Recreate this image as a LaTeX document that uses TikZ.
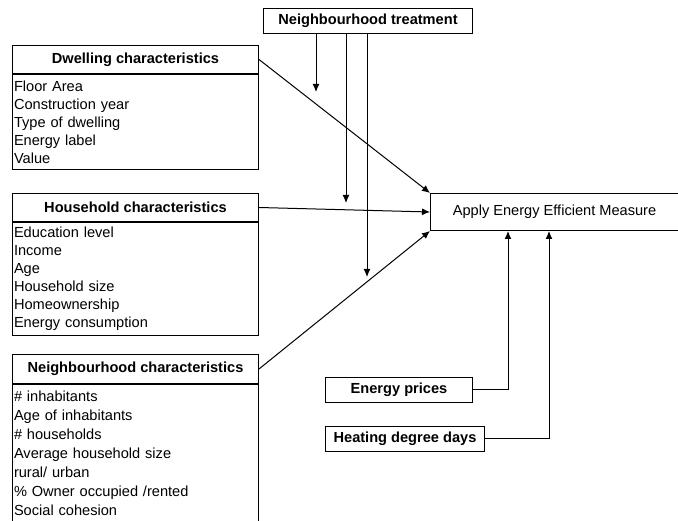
\documentclass[tikz,border=0pt]{standalone}
\usepackage{fontspec}
\setmainfont{Liberation Sans}
\usetikzlibrary{arrows.meta}

\tikzset{
  basefont/.style={font=\fontsize{14.6}{18}\selectfont},
  titlebox/.style={draw,line width=1pt,font=\fontsize{14.6}{18}\selectfont\bfseries,
    minimum width=246pt,minimum height=28pt,inner sep=0pt,anchor=north west},
  listbox/.style={draw,line width=1pt,font=\fontsize{14.6}{18}\selectfont,align=left,
    text width=243pt,inner xsep=1.5pt,inner ysep=0pt,anchor=north west},
  smallbox/.style={draw,line width=1pt,font=\fontsize{14.6}{18}\selectfont\bfseries,
    minimum height=25pt,inner sep=0pt,anchor=north west},
  arr/.style={line width=1pt,-{Latex[length=8pt,width=7pt]}},
}

\begin{document}
\begin{tikzpicture}[x=1pt,y=-1pt]
    \useasboundingbox (0,0) rectangle (678,521);

    % left column
    \node[titlebox] (dwt) at (12,45) {Dwelling characteristics};
    \node[listbox,minimum height=95pt] (dwl) at (dwt.south west)
        {Floor Area\\Construction year\\Type of dwelling\\Energy label\\Value};

    \node[titlebox] (hht) at (12,193) {Household characteristics};
    \node[listbox,minimum height=113pt] (hhl) at (hht.south west)
        {Education level\\Income\\Age\\Household size\\Homeownership\\Energy consumption};

    \node[titlebox,minimum height=29pt] (nbt) at (12,354) {Neighbourhood characteristics};
    \node[listbox,minimum height=137pt,font=\fontsize{14.6}{19}\selectfont] (nbl) at (nbt.south west)
        {\# inhabitants\\Age of inhabitants\\\# households\\Average household size\\rural/ urban\\\% Owner occupied /rented\\Social cohesion};

    % top, target and bottom boxes
    \node[smallbox,minimum width=209pt] (trt) at (263,8) {Neighbourhood treatment};
    \node[draw,line width=1pt,basefont,minimum width=248pt,minimum height=37pt,anchor=north west]
        (app) at (430,193) {Apply Energy Efficient Measure};
    \node[smallbox,minimum width=147pt] (enp) at (325,377) {Energy prices};
    \node[smallbox,minimum width=159pt] (hdd) at (325,426) {Heating degree days};

    % free ends
    \coordinate (t1) at (316,92);
    \coordinate (t2) at (346,203);
    \coordinate (t3) at (367,277);
    \coordinate (b1) at ([xshift=78pt]app.south west);
    \coordinate (b2) at ([xshift=119pt]app.south west);

    \draw[arr] (dwt.east) -- (app.north west);
    \draw[arr] (hht.east) -- (app.west);
    \draw[arr] (nbt.east) -- (app.south west);

    \draw[arr] (trt.south -| t1) -- (t1);
    \draw[arr] (trt.south -| t2) -- (t2);
    \draw[arr] (trt.south -| t3) -- (t3);

    \draw[arr] (enp.east) -| (b1);
    \draw[arr] (hdd.east) -| (b2);
\end{tikzpicture}
\end{document}
